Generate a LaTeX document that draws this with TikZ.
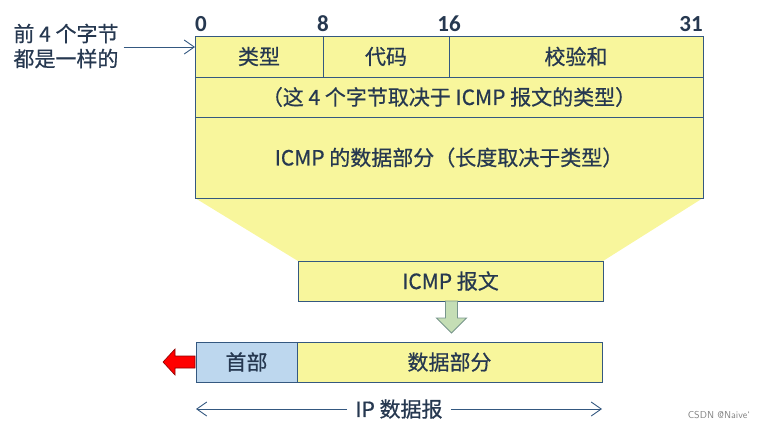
\documentclass[tikz,border=0pt]{standalone}
\usepackage{fontspec}
\setmainfont{Noto Sans CJK SC}[FakeBold=0.6]
\newfontfamily\numfont{Carlito}
\usetikzlibrary{arrows.meta,backgrounds,calc}
\definecolor{boxyellow}{RGB}{248,246,156}
\definecolor{boxblue}{RGB}{189,215,238}
\definecolor{boxline}{RGB}{52,88,128}
\definecolor{txt}{RGB}{38,56,80}
\definecolor{arrowgreen}{RGB}{197,222,181}
\definecolor{arrowgreenline}{RGB}{120,150,140}
\begin{document}
\begin{tikzpicture}[
            x=1pt, y=-1pt,
            every node/.style = {text=txt, font=\fontsize{21}{25}\selectfont},
            cell/.style = {draw=boxline, line width=0.9pt, fill=boxyellow, rectangle, anchor=north west, inner sep=0pt, outer sep=0pt},
            hdrcell/.style = {cell, fill=boxblue},
            bitno/.style = {font=\numfont\bfseries\fontsize{23}{25}\selectfont, inner sep=1pt, anchor=south},
            thinarrow/.style = {draw=boxline, line width=0.9pt, -{Straight Barb[length=10pt,width=14pt]}}
        ]
        \useasboundingbox (0,0) rectangle (773,429);

        \node[cell, minimum width=128pt, minimum height=41pt] (type) at (195,36) {类型};
        \node[cell, minimum width=126pt, minimum height=41pt] (code) at (type.north east) {代码};
        \node[cell, minimum width=254pt, minimum height=41pt] (chksum) at (code.north east) {校验和};
        \node[cell, minimum width=508pt, minimum height=40pt] (rest) at (type.south west) {（这 4 个字节取决于 ICMP 报文的类型）};
        \node[cell, minimum width=508pt, minimum height=81pt] (icmpdata) at (rest.south west) {ICMP 的数据部分（长度取决于类型）};

        \node[bitno, anchor=south west, inner sep=0pt] (b0) at ([yshift=4pt]type.north west) {0};
        \node[bitno] (b8) at ([yshift=3pt]code.north west) {8};
        \node[bitno] (b16) at ([yshift=3pt]chksum.north west) {16};
        \node[bitno, anchor=south east, inner sep=0pt] (b31) at ([yshift=4pt]chksum.north east) {31};

        \node[align=left, inner sep=0pt] (note) at (66,46) {前 4 个字节\\都是一样的};
        \draw[thinarrow] (note.east) ++(5,1) coordinate (notetail) (notetail) -- (notetail -| type.west);

        \node[cell, minimum width=305pt, minimum height=40pt] (icmp) at (298,261) {ICMP 报文};
        \begin{scope}[on background layer]
            \fill[boxyellow] (icmpdata.south west) -- (icmpdata.south east) -- (icmp.north east) -- (icmp.north west) -- cycle;
        \end{scope}

        \draw[draw=arrowgreenline, fill=arrowgreen, line width=0.9pt, line join=miter] (icmp.south) ++(-5,0) -- ++(0,17) -- ++(-9,0) -- ++(15,15) -- ++(15,-15) -- ++(-9,0) -- ++(0,-17) -- cycle;

        \node[hdrcell, minimum width=101pt, minimum height=40pt] (hdr) at (196,342) {首部};
        \node[cell, minimum width=305pt, minimum height=40pt] (ipdata) at (hdr.north east) {数据部分};

        \draw[draw=red!55!black, fill=red, line width=0.6pt] ([xshift=-1pt]hdr.west) ++(0,-6) -- ++(-20,0) -- ++(0,-7) -- ++(-12,13) -- ++(12,13) -- ++(0,-7) -- ++(20,0) -- cycle;

        \coordinate (ipleft) at ([yshift=-27pt]hdr.south west);
        \coordinate (ipright) at ([yshift=-27pt]ipdata.south east);
        \node[fill=white, inner xsep=8pt] (iplabel) at ($(ipleft)!0.5!(ipright)$) {IP 数据报};
        \draw[thinarrow] (iplabel.west) -- (ipleft);
        \draw[thinarrow] (iplabel.east) -- (ipright);

        \node[text=gray, font=\fontsize{10}{12}\selectfont\sffamily] (mark) at (719,415) {CSDN @Naive`};
    \end{tikzpicture}
\end{document}
